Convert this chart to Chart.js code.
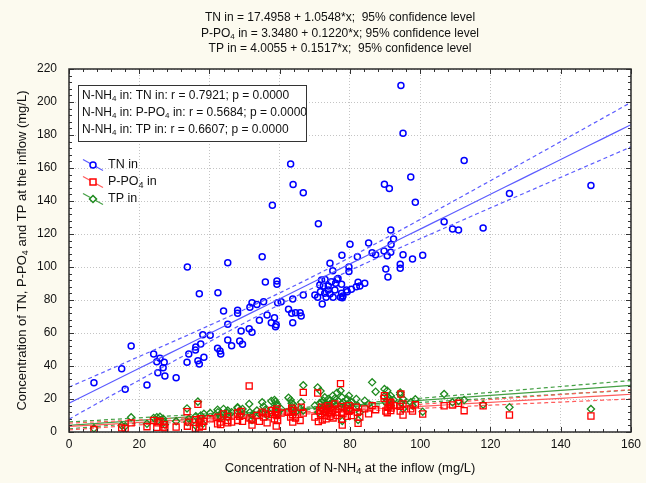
<!DOCTYPE html>
<html>
<head>
<meta charset="utf-8">
<script src="https://cdn.jsdelivr.net/npm/chart.js@4.4.1/dist/chart.umd.min.js"></script>
<style>
    html, body { margin: 0; padding: 0; background: #FCFAEF; }
    #wrap { width: 646px; height: 483px; }
</style>
</head>
<body>
<div id="wrap"><canvas id="chart" width="646" height="483"></canvas></div>
<script>
// N-NH4 at the inflow (x) - same samples for all three series
const nh4In = [
    7.1, 15.0, 16.0, 17.7, 22.2, 24.1, 25.0, 25.3, 25.9, 26.8,
    27.1, 27.3, 30.5, 33.6, 33.7, 34.1, 36.0, 36.1, 36.7, 37.1,
    37.1, 37.5, 38.1, 38.4, 40.2, 42.3, 42.4, 43.0, 43.2, 44.0,
    45.2, 45.2, 45.2, 46.3, 48.0, 48.0, 48.6, 49.0, 49.4, 51.3,
    51.5, 52.1, 52.1, 53.5, 54.2, 55.0, 55.4, 55.9, 56.4, 57.6,
    57.9, 58.5, 58.8, 59.0, 59.2, 59.2, 59.4, 60.4, 62.5, 63.1,
    63.4, 63.7, 63.7, 63.8, 64.5, 65.8, 66.1, 66.7, 66.7, 70.0,
    70.8, 71.0, 71.4, 71.6, 71.9, 72.1, 72.4, 72.8, 72.9, 73.2,
    73.8, 73.8, 74.3, 74.3, 74.7, 75.1, 75.2, 75.7, 75.9, 76.3,
    76.6, 77.3, 77.6, 77.6, 77.7, 77.8, 78.0, 79.0, 79.2, 79.7,
    79.7, 80.0, 80.4, 81.8, 82.1, 82.3, 82.8, 84.2, 85.3, 86.3,
    87.3, 89.7, 89.8, 90.2, 90.6, 90.8, 91.2, 91.6, 91.6, 91.7,
    92.4, 94.3, 94.3, 94.5, 95.1, 95.1, 97.3, 97.8, 98.6, 100.7,
    106.8, 109.2, 110.9, 112.5, 117.9, 125.4, 148.6
];
const tnIn = [
    29.9, 38.4, 25.9, 52.1, 28.5, 47.3, 42.6, 35.9, 44.7, 39.0,
    42.2, 33.9, 32.9, 42.2, 100.0, 47.3, 49.7, 51.5, 43.2, 41.2,
    83.8, 53.3, 59.0, 45.3, 58.6, 50.7, 84.4, 49.1, 47.3, 73.3,
    55.8, 65.3, 102.6, 52.3, 73.8, 71.9, 55.2, 61.2, 53.2, 62.6,
    75.6, 60.4, 78.4, 77.2, 67.7, 106.2, 79.0, 90.9, 70.9, 66.2,
    137.4, 69.3, 63.8, 65.0, 91.5, 89.5, 78.4, 79.0, 74.4, 162.5,
    71.9, 66.2, 80.6, 150.0, 72.3, 72.3, 70.3, 83.0, 145.0, 83.0,
    81.6, 126.2, 89.1, 85.0, 92.1, 77.6, 88.5, 84.1, 92.5, 81.6,
    88.5, 86.1, 83.6, 102.2, 91.1, 97.8, 81.6, 86.1, 90.1, 92.5,
    93.1, 81.6, 89.5, 84.1, 107.1, 81.4, 82.4, 86.1, 85.0, 100.0,
    97.2, 113.8, 86.5, 88.1, 106.2, 90.7, 88.5, 90.1, 114.5, 108.7,
    107.5, 109.7, 150.2, 98.8, 106.8, 93.9, 147.6, 108.9, 122.4, 113.7,
    117.0, 101.6, 99.2, 210.0, 181.0, 107.5, 154.5, 104.8, 139.2, 107.1,
    127.5, 123.0, 122.4, 164.5, 123.6, 144.5, 149.4
];
const po4In = [
    1.5, 2.5, 2.2, 5.5, 3.2, 7.0, 2.8, 5.5, 6.5, 3.0,
    4.5, 2.5, 3.0, 12.3, 3.5, 6.0, 2.2, 7.5, 16.8, 3.0,
    5.5, 8.0, 3.5, 6.5, 8.0, 5.0, 9.0, 6.0, 4.5, 11.0,
    5.5, 9.5, 7.0, 6.0, 11.5, 7.0, 9.5, 12.5, 6.5, 27.9,
    8.5, 4.2, 7.3, 10.0, 6.5, 12.0, 9.0, 11.0, 5.5, 13.0,
    10.5, 8.0, 12.5, 3.6, 10.0, 14.0, 7.0, 11.5, 12.0, 9.0,
    14.5, 6.0, 10.5, 13.0, 8.5, 7.0, 15.0, 24.0, 11.5, 9.0,
    23.6, 6.3, 13.0, 11.0, 15.0, 7.3, 12.5, 10.0, 14.0, 8.0,
    16.0, 12.0, 9.5, 14.5, 11.0, 13.0, 8.5, 17.0, 12.0, 10.0,
    14.0, 29.3, 12.0, 7.7, 15.5, 4.2, 11.0, 14.0, 9.5, 16.0,
    12.5, 13.0, 10.0, 15.0, 12.0, 5.2, 9.0, 14.0, 11.0, 16.0,
    13.5, 20.4, 22.0, 12.7, 11.7, 15.0, 17.0, 13.0, 18.0, 14.5,
    16.0, 12.7, 15.5, 23.0, 10.3, 17.0, 14.0, 12.7, 16.5, 10.9,
    15.9, 16.4, 17.4, 12.9, 15.9, 10.3, 9.7
];
const tpIn = [
    2.2, 4.0, 3.5, 8.9, 5.0, 8.5, 9.0, 7.0, 9.2, 8.0,
    6.0, 4.5, 6.5, 14.3, 6.0, 8.0, 4.0, 9.5, 18.4, 6.5,
    7.0, 10.0, 5.0, 11.0, 11.5, 13.5, 12.0, 10.0, 8.5, 14.0,
    13.0, 11.5, 9.0, 12.0, 15.0, 14.5, 13.0, 10.5, 14.0, 17.0,
    12.0, 7.3, 10.0, 13.0, 11.0, 18.0, 15.5, 13.5, 10.0, 18.8,
    14.0, 19.4, 18.4, 12.0, 17.0, 16.0, 11.0, 14.0, 20.8, 19.4,
    17.4, 13.0, 15.0, 16.8, 12.0, 14.0, 18.0, 28.3, 13.0, 16.0,
    27.0, 12.0, 17.5, 24.8, 18.0, 14.0, 19.0, 21.0, 16.5, 13.0,
    20.0, 15.0, 17.0, 19.0, 14.5, 22.0, 18.0, 20.5, 16.0, 23.8,
    19.0, 25.0, 17.0, 15.0, 21.0, 6.7, 18.0, 16.5, 19.8, 22.0,
    17.5, 14.0, 18.0, 20.0, 16.0, 7.3, 12.0, 19.0, 17.0, 30.1,
    24.4, 21.4, 26.0, 18.0, 25.0, 21.4, 20.0, 16.0, 22.0, 18.5,
    19.5, 24.0, 22.8, 17.8, 14.0, 20.0, 18.0, 16.0, 19.8, 12.3,
    23.0, 18.0, 18.8, 19.4, 16.6, 15.0, 13.9
];

// regression coefficients [intercept, slope] as printed in the header
const tnFit = [17.4958, 1.0548];
const po4Fit = [3.3480, 0.1220];
const tpFit = [4.0055, 0.1517];

const titleLines = [
    'TN in = 17.4958 + 1.0548*x;  95% confidence level',
    'P-PO\u2084 in = 3.3480 + 0.1220*x; 95% confidence level',
    'TP in = 4.0055 + 0.1517*x;  95% confidence level'
];
const corrLines = [
    'N-NH\u2084 in: TN in: r = 0.7921; p = 0.0000',
    'N-NH\u2084 in: P-PO\u2084 in: r = 0.5684; p = 0.0000',
    'N-NH\u2084 in: TP in: r = 0.6607; p = 0.0000'
];
const seriesNames = ['TN in', 'P-PO\u2084 in', 'TP in'];
const xTitle = 'Concentration of N-NH\u2084 at the inflow (mg/L)';
const yTitle = 'Concentration of TN, P-PO\u2084 and TP at the inflow (mg/L)';

const FONT = "'Liberation Sans', Arial, sans-serif";
const TN_COL = '#0000FF', PO4_COL = '#FF0000', TP_COL = '#1E8A1E';
const TN_LINE = '#5C5CFF', PO4_LINE = '#FF5C5C', TP_LINE = '#45A045';

function toPoints(xs, ys) {
    return xs.map((x, i) => ({ x: x, y: ys[i] }));
}

// straight fit line and its 95% confidence band (computed from the residuals)
function fitLine(fit, sign, xs, ys) {
    const n = xs.length;
    const xbar = xs.reduce((a, b) => a + b, 0) / n;
    const sxx = xs.reduce((a, x) => a + (x - xbar) * (x - xbar), 0);
    const sse = xs.reduce((a, x, i) => {
        const r = ys[i] - (fit[0] + fit[1] * x);
        return a + r * r;
    }, 0);
    const s = Math.sqrt(sse / (n - 2));
    const t = 1.978;
    const pts = [];
    for (let x = 0; x <= 160; x += 4) {
        const h = t * s * Math.sqrt(1 / n + (x - xbar) * (x - xbar) / sxx);
        pts.push({ x: x, y: fit[0] + fit[1] * x + sign * h });
    }
    return pts;
}

function lineSet(pts, color, dashed) {
    return {
        type: 'scatter',
        data: pts,
        showLine: true,
        borderColor: color,
        borderWidth: 1.2,
        borderDash: dashed ? [4, 3] : [],
        pointRadius: 0,
        pointHoverRadius: 0,
        fill: false
    };
}

// text with the subscript four drawn small and lowered
function richText(ctx, text, x, y, align, size) {
    const parts = text.split('\u2084');
    const subSize = Math.round(size * 0.68);
    let w = 0;
    parts.forEach((p, i) => {
        ctx.font = size + 'px ' + FONT;
        w += ctx.measureText(p).width;
        if (i < parts.length - 1) {
            ctx.font = subSize + 'px ' + FONT;
            w += ctx.measureText('4').width;
        }
    });
    let cx = align === 'center' ? x - w / 2 : x;
    ctx.textAlign = 'left';
    parts.forEach((p, i) => {
        ctx.font = size + 'px ' + FONT;
        ctx.fillText(p, cx, y);
        cx += ctx.measureText(p).width;
        if (i < parts.length - 1) {
            ctx.font = subSize + 'px ' + FONT;
            ctx.fillText('4', cx, y + size * 0.25);
            cx += ctx.measureText('4').width;
        }
    });
}

function drawMarker(ctx, style, x, y, color) {
    ctx.save();
    ctx.strokeStyle = color;
    ctx.lineWidth = 1.5;
    ctx.fillStyle = '#fff';
    ctx.beginPath();
    if (style === 'circle') {
        ctx.arc(x, y, 3, 0, Math.PI * 2);
    } else if (style === 'rect') {
        ctx.rect(x - 3, y - 3, 6, 6);
    } else {
        ctx.moveTo(x, y - 3.5); ctx.lineTo(x + 3.5, y); ctx.lineTo(x, y + 3.5); ctx.lineTo(x - 3.5, y); ctx.closePath();
    }
    ctx.fill();
    ctx.stroke();
    ctx.restore();
}

const framePlugin = {
    id: 'frame',
    beforeDraw(chart) {
        const ctx = chart.ctx, a = chart.chartArea;
        ctx.save();
        ctx.fillStyle = '#FCFAEF';
        ctx.fillRect(0, 0, chart.width, chart.height);
        ctx.fillStyle = '#FFFFFF';
        ctx.fillRect(a.left, a.top, a.right - a.left, a.bottom - a.top);
        ctx.restore();
    },
    afterDraw(chart) {
        const ctx = chart.ctx, a = chart.chartArea;
        const xs = chart.scales.x, ys = chart.scales.y;
        ctx.save();

        // inner tick marks on all four sides
        ctx.strokeStyle = '#333';
        ctx.lineWidth = 1;
        ctx.beginPath();
        for (let v = 0; v <= 160; v += 4) {
            const px = Math.round(xs.getPixelForValue(v)) + 0.5;
            const len = v % 20 === 0 ? 5 : 3;
            ctx.moveTo(px, a.bottom); ctx.lineTo(px, a.bottom - len);
            ctx.moveTo(px, a.top); ctx.lineTo(px, a.top + len);
        }
        for (let v = 0; v <= 220; v += 4) {
            const py = Math.round(ys.getPixelForValue(v)) + 0.5;
            const len = v % 20 === 0 ? 5 : 3;
            ctx.moveTo(a.left, py); ctx.lineTo(a.left + len, py);
            ctx.moveTo(a.right, py); ctx.lineTo(a.right - len, py);
        }
        ctx.stroke();

        // plot frame
        ctx.strokeStyle = '#2b2b2b';
        ctx.lineWidth = 1.5;
        ctx.strokeRect(a.left, a.top, a.right - a.left, a.bottom - a.top);

        ctx.fillStyle = '#111';
        ctx.textBaseline = 'middle';

        // header lines
        titleLines.forEach((s, i) => richText(ctx, s, 340, 18 + i * 15.5, 'center', 12));

        // correlation box
        ctx.fillStyle = '#fff';
        ctx.fillRect(78.5, 85.5, 228, 56);
        ctx.strokeStyle = '#333';
        ctx.lineWidth = 1;
        ctx.strokeRect(78.5, 85.5, 228, 56);
        ctx.fillStyle = '#111';
        corrLines.forEach((s, i) => richText(ctx, s, 82, 96 + i * 17, 'left', 12));

        // legend
        const cols = [TN_COL, PO4_COL, TP_COL];
        const lcols = [TN_LINE, PO4_LINE, TP_LINE];
        const styles = ['circle', 'rect', 'diamond'];
        seriesNames.forEach((s, i) => {
            const cy = 165 + i * 17, cx = 93;
            ctx.strokeStyle = lcols[i];
            ctx.lineWidth = 1.2;
            ctx.beginPath();
            ctx.moveTo(cx - 10, cy - 5.5);
            ctx.lineTo(cx + 10, cy + 5.5);
            ctx.stroke();
            drawMarker(ctx, styles[i], cx, cy, cols[i]);
            ctx.fillStyle = '#111';
            richText(ctx, s, 108, cy, 'left', 12.5);
        });

        // axis titles
        richText(ctx, xTitle, (a.left + a.right) / 2, 468, 'center', 13);
        ctx.translate(22, (a.top + a.bottom) / 2);
        ctx.rotate(-Math.PI / 2);
        richText(ctx, yTitle, 0, 0, 'center', 13);
        ctx.restore();
    }
};

const ctx = document.getElementById('chart').getContext('2d');
new Chart(ctx, {
    type: 'scatter',
    data: {
        datasets: [
            lineSet(fitLine(tnFit, 0, nh4In, tnIn), TN_LINE, false),
            lineSet(fitLine(tnFit, 1, nh4In, tnIn), TN_LINE, true),
            lineSet(fitLine(tnFit, -1, nh4In, tnIn), TN_LINE, true),
            {
                label: seriesNames[0],
                data: toPoints(nh4In, tnIn),
                pointStyle: 'circle',
                pointRadius: 3,
                borderColor: TN_COL,
                backgroundColor: 'rgba(255,255,255,0)',
                borderWidth: 1.5
            },
            {
                label: seriesNames[1],
                data: toPoints(nh4In, po4In),
                pointStyle: 'rect',
                pointRadius: 4.3,
                borderColor: PO4_COL,
                backgroundColor: 'rgba(255,255,255,0)',
                borderWidth: 1.3
            },
            {
                label: seriesNames[2],
                data: toPoints(nh4In, tpIn),
                pointStyle: 'rectRot',
                pointRadius: 3.6,
                borderColor: TP_COL,
                backgroundColor: 'rgba(255,255,255,0)',
                borderWidth: 1.3
            },
            lineSet(fitLine(po4Fit, 0, nh4In, po4In), PO4_LINE, false),
            lineSet(fitLine(po4Fit, 1, nh4In, po4In), PO4_LINE, true),
            lineSet(fitLine(po4Fit, -1, nh4In, po4In), PO4_LINE, true),
            lineSet(fitLine(tpFit, 0, nh4In, tpIn), TP_LINE, false),
            lineSet(fitLine(tpFit, 1, nh4In, tpIn), TP_LINE, true),
            lineSet(fitLine(tpFit, -1, nh4In, tpIn), TP_LINE, true)
        ]
    },
    options: {
        responsive: false,
        animation: false,
        devicePixelRatio: 1,
        layout: { padding: { top: 69, right: 11, left: 0, bottom: 0 } },
        plugins: {
            legend: { display: false },
            title: { display: false },
            tooltip: { enabled: false }
        },
        scales: {
            x: {
                type: 'linear',
                min: 0,
                max: 160,
                afterFit: function (scale) { scale.height = 51; },
                ticks: { stepSize: 20, color: '#111', font: { family: FONT, size: 12 }, padding: 5 },
                grid: { color: '#C4C4C4', drawTicks: false, lineWidth: 1 },
                border: { display: false, dash: [1, 2] }
            },
            y: {
                type: 'linear',
                min: 0,
                max: 220,
                afterFit: function (scale) { scale.width = 69; },
                ticks: { stepSize: 20, color: '#111', font: { family: FONT, size: 12 }, padding: 12, autoSkip: false },
                grid: { color: '#C4C4C4', drawTicks: false, lineWidth: 1 },
                border: { display: false, dash: [1, 2] }
            }
        }
    },
    plugins: [framePlugin]
});
</script>
</body>
</html>
